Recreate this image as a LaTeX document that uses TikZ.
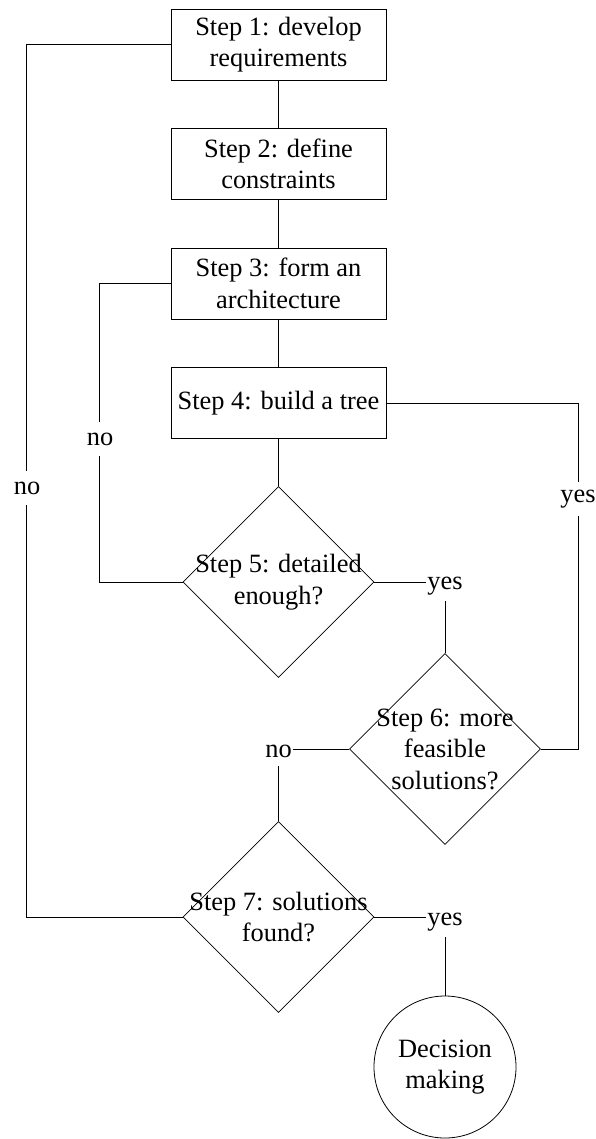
\documentclass[tikz,border=0pt]{standalone}
\usepackage{fontspec}
\setmainfont{Liberation Serif}
\usetikzlibrary{shapes.geometric}
\begin{document}
\begin{tikzpicture}[x=1pt,y=-1pt, line width=0.8pt,
  every node/.style={font=\fontsize{26.4}{31.5}\selectfont},
  stepbox/.style={draw, minimum width=215pt, minimum height=71pt, align=center, inner sep=0pt},
  dia/.style={draw, diamond, aspect=1, minimum width=191pt, minimum height=191pt, inner sep=0pt},
  txt/.style={align=center, inner sep=0pt},
  lbl/.style={fill=white, inner sep=1pt, minimum height=34pt},
  clbl/.style={inner xsep=1pt, inner ysep=0pt, minimum height=30pt}
  ]
\useasboundingbox (0,0) rectangle (595,1139);
% boxes
\node[stepbox] (s1) at (278.5,44.5) {Step 1: develop\\requirements};
\node[stepbox] (s2) at (278.5,164) {Step 2: define\\constraints};
\node[stepbox] (s3) at (278.5,283.5) {Step 3: form an\\architecture};
\node[stepbox] (s4) at (278.5,403) {Step 4: build a tree};
% diamonds
\node[dia] (d5) at (278.5,582) {};
\node[dia] (d6) at (445,749) {};
\node[dia] (d7) at (278.5,917) {};
\node[draw, circle, minimum size=142pt, inner sep=0pt, align=center] (dm) at (445,1067) {Decision\\making};
% straight connectors
\draw (s1) -- (s2);
\draw (s2) -- (s3);
\draw (s3) -- (s4);
\draw (s4) -- (d5);
% loops
\draw (s1.west) -- ++(-144,0) |- (d7.west);
\draw (s3.west) -- ++(-71,0) |- (d5.west);
\draw (s4.east) -- ++(192,0) |- (d6.east);
\node[lbl] (no1) at (27,488) {no};
\node[lbl] (no3) at (100,439) {no};
\node[lbl] (yes2) at (578,499) {yes};
% corner labels
\node[clbl] (yes1) at (445,586) {yes};
\node[clbl] (no2) at (278.5,751) {no};
\node[clbl] (yes3) at (445,922) {yes};
\draw (d5.east) -- (d5.east -| yes1.west);
\draw (yes1.south) -- (d6.north);
\draw (d6.west) -- (d6.west -| no2.east);
\draw (no2.south) -- (d7.north);
\draw (d7.east) -- (d7.east -| yes3.west);
\draw (yes3.south) -- (dm.north);
% diamond texts
\node[txt] (t5) at (d5) {Step 5: detailed\\enough?};
\node[txt] (t6) at (d6) {Step 6: more\\feasible\\solutions?};
\node[txt] (t7) at (d7) {Step 7: solutions\\found?};
\end{tikzpicture}
\end{document}
